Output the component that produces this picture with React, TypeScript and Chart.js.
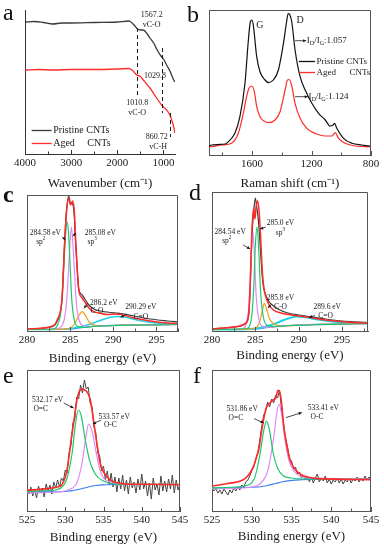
import React, { useEffect, useRef } from "react";
import { Chart, registerables } from "chart.js";
Chart.register(...registerables);

const FONT = "'Liberation Serif', 'Times New Roman', serif";

// ---------- (a) FTIR ----------
const ftirPristineX = [4000, 3800, 3600, 3400, 3200, 3000, 2500, 2000, 1750, 1680, 1600, 1567, 1500, 1437, 1350, 1293, 1200, 1148, 1040, 1000, 931, 860, 788, 751];
const ftirPristineY = [132, 132.5, 131.5, 130, 131, 131, 131.5, 132, 133, 131, 127, 125, 124, 124, 120, 116, 110, 105, 97, 95, 89, 83, 75, 72];
const ftirAgedX = [4000, 3700, 3400, 3000, 2500, 2000, 1750, 1680, 1600, 1581, 1500, 1437, 1293, 1148, 1040, 931, 860, 788, 751];
const ftirAgedY = [84, 84.5, 84, 84.5, 84.5, 85, 85.5, 84, 80, 79, 77.5, 74, 66, 56, 49, 44, 39, 29, 21];
const ftirTicks = [4000, 3000, 2000, 1000];
const ftirMarks = [1567.2, 1029.8, 860.72];
const ftirMarkTop = [126, 106, 41];
const ftirMarkBottom = [57, 41, 17];

// ---------- (b) Raman ----------
const ramanPristineX = [1890, 1873, 1830, 1780, 1760, 1716, 1682, 1648, 1625, 1612, 1602, 1592, 1569, 1547, 1513, 1490, 1457, 1423, 1389, 1367, 1357, 1347, 1333, 1311, 1277, 1243, 1198, 1153, 1108, 1075, 1055, 1045, 1030, 985, 928, 861, 805, 800];
const ramanPristineY = [9, 10, 10.5, 11, 13.3, 21.7, 38.3, 71.7, 115, 133, 135, 130, 98.3, 83.3, 75, 72.3, 75, 85, 111.7, 134, 141.5, 140.5, 133, 105, 78.3, 65, 51.7, 41.7, 35, 29, 30, 31.7, 26.7, 16.7, 11.7, 10, 9, 9];
const ramanAgedX = [1890, 1873, 1800, 1738, 1693, 1659, 1637, 1621, 1603, 1585, 1569, 1547, 1520, 1490, 1446, 1412, 1378, 1362, 1350, 1333, 1311, 1277, 1232, 1176, 1108, 1063, 1041, 1018, 974, 906, 805, 800];
const ramanAgedY = [8, 8.3, 10, 11.7, 21.7, 41.7, 58.3, 66.7, 69, 63.3, 48.3, 38.3, 34, 32.3, 35, 43.3, 65, 75, 75.5, 69, 51.7, 36.7, 26.7, 21.7, 19, 19, 22.3, 16.7, 11.7, 9, 8.3, 8.3];
const ramanTicks = [1600, 1200, 800];

// ---------- (c) XPS C1s pristine ----------
const cRawX = [280, 282.7, 283.5, 284.07, 284.34, 284.57, 284.84, 285.03, 285.3, 285.5, 285.62, 285.81, 286.0, 286.39, 286.78, 287.17, 287.75, 288.5, 289.3, 290.3, 290.85, 292.4, 294.3, 296.3, 297.5];
const cRawY = [2, 4, 10, 33, 85, 120, 135, 128, 127, 112, 90, 62, 42, 36, 31, 26, 22, 20, 19, 18, 17.5, 15, 12, 10, 9];
const cFitX = [280, 282.7, 283.5, 284.07, 284.34, 284.57, 284.84, 285.03, 285.3, 285.5, 285.62, 285.81, 286.0, 286.39, 286.78, 287.17, 287.75, 288.5, 289.3, 290.3, 290.85, 292.4, 294.3, 296.3, 297.5];
const cFitY = [2, 4.3, 11, 34, 84, 118, 133, 126, 130, 118, 94, 64, 41, 33, 28, 23, 19.3, 17.7, 16.5, 17, 16.5, 13, 10, 8, 7.5];
const cSp2X = [280, 283, 283.48, 284.0, 284.3, 284.5, 284.65, 284.8, 285.0, 285.2, 285.5, 285.8, 286.5, 288, 297.5];
const cSp2Y = [1.5, 2, 5, 25, 70, 100, 109, 100, 65, 30, 10, 5, 3.5, 4.8, 6.5];
const cSp3X = [280, 283.5, 284.2, 284.6, 284.9, 285.15, 285.4, 285.7, 286.0, 286.5, 287.5, 289, 297.5];
const cSp3Y = [1.5, 2.5, 8, 30, 75, 104, 75, 30, 12, 5.5, 4.5, 5.3, 6.5];
const cCOX = [280, 284, 285.0, 285.5, 286.0, 286.39, 286.8, 287.2, 287.8, 288.5, 291, 297.5];
const cCOY = [1.5, 1.8, 3, 7, 15, 19.3, 15, 9, 6, 5.2, 5.8, 6.5];
const cCdOX = [280, 284, 285, 286, 287, 288, 289, 289.8, 290.5, 291.2, 292, 293, 294, 295, 296, 297.5];
const cCdOY = [1.5, 1.8, 2.5, 4, 6, 9, 12, 14, 14.5, 14, 12.5, 10.5, 9, 8, 7.5, 7];
const cBgX = [280, 284, 285, 286, 287, 288, 289, 291, 294, 297.5];
const cBgY = [1.5, 1.5, 2, 3, 4, 4.8, 5.3, 5.8, 6.2, 6.5];

// ---------- (d) XPS C1s aged ----------
const dRawX = [280, 282.7, 283.84, 284.23, 284.42, 284.61, 284.81, 285.0, 285.15, 285.3, 285.45, 285.6, 285.77, 285.92, 286.15, 286.53, 287.1, 288.07, 289.23, 290, 291.15, 293.07, 295, 298];
const dRawY = [2, 4, 7, 15, 45, 95, 120, 133, 125, 115, 100, 80, 58, 45, 37, 30, 25, 20, 17, 16, 14.5, 12, 10, 8.5];
const dFitX = [280, 282.7, 283.84, 284.23, 284.42, 284.61, 284.81, 284.95, 285.1, 285.27, 285.45, 285.6, 285.77, 285.92, 286.15, 286.53, 287.1, 288.07, 289.23, 290, 291.15, 293.07, 295, 298];
const dFitY = [2, 4.3, 7.7, 17.7, 51, 101, 123, 112, 125, 130, 118, 95, 65, 48, 36, 27, 21, 17.7, 16, 15, 13.7, 11, 9.3, 7.7];
const dSp2X = [280, 283.5, 284.0, 284.3, 284.55, 284.73, 284.9, 285.1, 285.4, 285.8, 286.5, 288, 298];
const dSp2Y = [1.5, 2.5, 8, 30, 80, 99, 75, 35, 12, 5, 3.5, 5, 7.5];
const dSp3X = [280, 284, 284.5, 284.8, 285.0, 285.2, 285.4, 285.6, 285.9, 286.3, 287, 289, 298];
const dSp3Y = [1.5, 2.5, 10, 40, 85, 104, 80, 40, 15, 6, 4.5, 5.5, 7.5];
const dCOX = [280, 284, 285, 285.5, 285.8, 286.04, 286.3, 286.6, 287, 287.6, 288.5, 292, 298];
const dCOY = [1.5, 1.8, 3, 9, 20, 27.7, 22, 13, 8, 5.5, 5.2, 6.5, 7.5];
const dCdOX = [280, 284, 285, 286, 287, 288, 289, 289.8, 290.5, 291.5, 293, 295, 298];
const dCdOY = [1.5, 1.8, 2.5, 4, 6.5, 10, 13, 14.5, 14, 12.5, 10.5, 8.5, 7.5];
const dBgX = [280, 284, 285, 286, 287, 288, 289, 291, 294, 298];
const dBgY = [1.5, 1.5, 2, 3, 4, 5, 5.5, 6.5, 7, 7.5];
const xpsCTicks = [280, 285, 290, 295];

// ---------- (e) XPS O1s pristine ----------
const eRawStart = 525;
const eRawStep = 0.25;
const eRawY = [22, 17, 24, 15, 21, 13, 25, 18, 23, 14, 27, 20, 26, 17, 29, 23, 31, 24, 33, 30, 41, 38, 58, 66, 88, 92, 114, 112, 126, 118, 131, 122, 124, 108, 104, 84, 78, 58, 55, 40, 45, 31, 40, 26, 38, 24, 34, 19, 33, 22, 36, 20, 31, 17, 34, 23, 29, 18, 32, 21, 37, 22, 30, 15, 28, 12, 33, 21, 27, 16, 35, 20, 30, 19, 32, 22, 36, 18, 31, 21, 27];
const eFitX = [525, 527, 529, 529.5, 530, 530.25, 530.5, 530.75, 531, 531.25, 531.5, 531.75, 532, 532.25, 532.5, 532.75, 533, 533.25, 533.5, 533.75, 534, 534.25, 534.5, 534.75, 535, 535.5, 536, 537, 538, 540, 545];
const eFitY = [20.7, 22, 24, 25.7, 34, 42, 55, 70, 83, 97, 110, 118, 121.5, 122, 121, 120, 117, 112, 101, 88, 74, 62, 50, 43, 39, 34, 30.5, 28, 27, 26.7, 26.3];
const eOdCX = [525, 528, 529.5, 530.2, 530.9, 531.3, 531.7, 532.1, 532.6, 533.2, 534, 535, 536, 537.7, 545];
const eOdCY = [19.5, 20.5, 23.5, 32, 58, 85, 101, 95, 72, 50, 36, 30, 27.5, 26.8, 26.5];
const eOCX = [525, 529, 530.5, 531.5, 532.2, 532.7, 533.05, 533.5, 534, 534.5, 535, 536, 537.7, 545];
const eOCY = [18, 19, 21.5, 28, 48, 74, 87, 80, 60, 42, 33, 28.5, 26.8, 26.5];
const eBgX = [525, 530, 531, 532, 533, 534, 535, 537, 545];
const eBgY = [19, 19.5, 20.5, 22, 24, 25.5, 26.2, 26.5, 26.5];

// ---------- (f) XPS O1s aged ----------
const fRawStart = 525;
const fRawStep = 0.25;
const fRawY = [24, 20, 22, 18, 21, 17, 22, 19, 16, 21, 18, 23, 20, 24, 21, 26, 24, 29, 31, 35, 40, 44, 52, 58, 70, 84, 96, 100, 109, 104, 112, 108, 116, 113, 121, 102, 88, 72, 64, 52, 50, 42, 44, 37, 39, 33, 36, 31, 35, 29, 34, 28, 33, 37, 29, 33, 30, 35, 28, 32, 27, 31, 29, 33, 28, 32, 27, 31, 29, 33, 28, 32, 30, 34, 29, 33, 30, 35, 31, 34, 32];
const fFitX = [525, 527, 528.8, 529.5, 530, 530.3, 530.6, 530.9, 531.2, 531.5, 531.75, 532, 532.3, 532.6, 533, 533.3, 533.5, 533.65, 533.8, 534, 534.25, 534.5, 534.75, 535.1, 535.5, 536.3, 537, 538.4, 545];
const fFitY = [25, 27.5, 30.7, 35, 41, 46, 54, 62, 78, 92, 101, 106, 108, 110.7, 112.4, 120.7, 119, 114, 104, 86, 73, 62, 53, 46, 41, 36, 34, 32.4, 31.4];
const fOdCX = [525, 529, 530.3, 531, 531.5, 531.85, 532.2, 532.7, 533.3, 534, 535, 537, 545];
const fOdCY = [23, 25, 32, 55, 80, 90, 82, 58, 42, 35, 33, 32, 31.7];
const fOCX = [525, 530, 531, 532, 532.7, 533.1, 533.4, 533.8, 534.2, 534.7, 535.3, 536, 537.5, 545];
const fOCY = [22, 24, 27, 40, 70, 95, 107, 95, 70, 50, 40, 35, 33, 32];
const fBgX = [525, 530.9, 532, 533, 534, 535.1, 537.6, 545];
const fBgY = [23, 24, 25.5, 27.5, 29.5, 30.7, 31.7, 31.7];
const xpsOTicks = [525, 530, 535, 540, 545];

// ---------- styling ----------
const RED = "#ff2a2a";
const GREEN = "#1ec86a";
const VIOLET = "#e08af2";
const ORANGE = "#f0a020";
const CYAN = "#20d2e4";
const BLUE = "#3a80f0";
const RAW = "#3b3b3b";
const INK = "#1a1a1a";

const zip = (xs: number[], ys: number[]) => xs.map((x, i) => ({ x, y: ys[i] }));
const seq = (start: number, step: number, ys: number[]) => ys.map((y, i) => ({ x: start + i * step, y }));

type Series = { data: { x: number; y: number }[]; color: string; width: number; smooth?: boolean };
type Txt = { x: number; y: number; s: string; size: number; align?: "left" | "center" };
type Arrow = { x1: number; y1: number; x2: number; y2: number };
type Dash = { x: number; y1: number; y2: number };
type Leg = { x1: number; x2: number; y: number; color: string; label: string; size: number };
type Panel = {
  box: { l: number; t: number; r: number; b: number };
  axisH: number;
  xMin: number; xMax: number; reverse: boolean; yMax: number;
  ticks: number[];
  title: string;
  frame: boolean;
  axisColor: string;
  series: Series[];
  texts?: Txt[]; arrows?: Arrow[]; dashes?: Dash[]; legend?: Leg[];
};

const PAD_L = 16, PAD_R = 16, PAD_T = 4;

function drawRich(ctx: CanvasRenderingContext2D, s: string, x: number, y: number, size: number, align: "left" | "center") {
  const segs: { t: string; k: number; w: number }[] = [];
  const re = /([_^])\{([^}]*)\}/g;
  let last = 0;
  let m: RegExpExecArray | null;
  while ((m = re.exec(s))) {
    if (m.index > last) segs.push({ t: s.slice(last, m.index), k: 0, w: 0 });
    segs.push({ t: m[2], k: m[1] === "_" ? 1 : -1, w: 0 });
    last = re.lastIndex;
  }
  if (last < s.length) segs.push({ t: s.slice(last), k: 0, w: 0 });
  const small = size * 0.68;
  let w = 0;
  for (const sg of segs) {
    ctx.font = `${sg.k ? small : size}px ${FONT}`;
    sg.w = ctx.measureText(sg.t).width;
    w += sg.w;
  }
  let cx = align === "center" ? x - w / 2 : x;
  ctx.textBaseline = "middle";
  ctx.textAlign = "left";
  ctx.fillStyle = INK;
  for (const sg of segs) {
    ctx.font = `${sg.k ? small : size}px ${FONT}`;
    const dy = sg.k === 1 ? size * 0.3 : sg.k === -1 ? -size * 0.35 : 0;
    ctx.fillText(sg.t, cx, y + dy);
    cx += sg.w;
  }
}

function decor(p: Panel) {
  return {
    id: "decor",
    afterDraw(chart: any) {
      const ctx: CanvasRenderingContext2D = chart.ctx;
      const xs = chart.scales.x, ys = chart.scales.y;
      const a = chart.chartArea;
      ctx.save();
      ctx.strokeStyle = p.axisColor;
      ctx.lineWidth = 1;
      if (p.frame) {
        ctx.beginPath();
        ctx.moveTo(a.left, a.top + 0.5);
        ctx.lineTo(a.right - 0.5, a.top + 0.5);
        ctx.lineTo(a.right - 0.5, a.bottom);
        ctx.stroke();
      }
      // inward ticks (major + minor)
      const step = p.ticks[1] - p.ticks[0];
      const lo = Math.min(p.xMin, p.xMax), hi = Math.max(p.xMin, p.xMax);
      ctx.strokeStyle = p.axisColor;
      for (let k = -4; k <= p.ticks.length * 2 + 4; k++) {
        const v = p.ticks[0] + (k * step) / 2;
        if (v < lo - 1e-9 || v > hi + 1e-9) continue;
        const px = Math.round(xs.getPixelForValue(v)) + 0.5;
        const len = k % 2 === 0 ? 4 : 2.5;
        ctx.beginPath();
        ctx.moveTo(px, a.bottom);
        ctx.lineTo(px, a.bottom - len);
        ctx.stroke();
      }
      // dashed markers
      ctx.strokeStyle = INK;
      ctx.setLineDash([4, 3]);
      for (const d of p.dashes || []) {
        const px = Math.round(xs.getPixelForValue(d.x)) + 0.5;
        ctx.beginPath();
        ctx.moveTo(px, ys.getPixelForValue(d.y1));
        ctx.lineTo(px, ys.getPixelForValue(d.y2));
        ctx.stroke();
      }
      ctx.setLineDash([]);
      // arrows
      ctx.strokeStyle = INK;
      ctx.fillStyle = INK;
      ctx.lineWidth = 0.8;
      for (const ar of p.arrows || []) {
        const x1 = xs.getPixelForValue(ar.x1), y1 = ys.getPixelForValue(ar.y1);
        const x2 = xs.getPixelForValue(ar.x2), y2 = ys.getPixelForValue(ar.y2);
        ctx.beginPath();
        ctx.moveTo(x1, y1);
        ctx.lineTo(x2, y2);
        ctx.stroke();
        const ang = Math.atan2(y2 - y1, x2 - x1);
        const hl = 3.5;
        ctx.beginPath();
        ctx.moveTo(x2, y2);
        ctx.lineTo(x2 - hl * Math.cos(ang - 0.45), y2 - hl * Math.sin(ang - 0.45));
        ctx.lineTo(x2 - hl * Math.cos(ang + 0.45), y2 - hl * Math.sin(ang + 0.45));
        ctx.closePath();
        ctx.fill();
      }
      // legend
      for (const lg of p.legend || []) {
        const x1 = xs.getPixelForValue(lg.x1), x2 = xs.getPixelForValue(lg.x2);
        const y = Math.round(ys.getPixelForValue(lg.y)) + 0.5;
        ctx.strokeStyle = lg.color;
        ctx.lineWidth = 1.3;
        ctx.beginPath();
        ctx.moveTo(x1, y);
        ctx.lineTo(x2, y);
        ctx.stroke();
        drawRich(ctx, lg.label, x2 + 1.5, y, lg.size, "left");
      }
      // texts
      for (const t of p.texts || []) {
        drawRich(ctx, t.s, xs.getPixelForValue(t.x), ys.getPixelForValue(t.y), t.size, t.align || "center");
      }
      ctx.restore();
    },
  };
}

function PanelChart({ p }: { p: Panel }) {
  const ref = useRef<HTMLCanvasElement>(null);
  const W = p.box.r - p.box.l + PAD_L + PAD_R;
  const H = p.box.b - p.box.t + PAD_T + p.axisH;
  useEffect(() => {
    const canvas = ref.current!;
    const chart = new Chart(canvas, {
      type: "line",
      data: {
        datasets: p.series.map((s) => ({
          data: s.data,
          borderColor: s.color,
          borderWidth: s.width,
          pointRadius: 0,
          fill: false,
          cubicInterpolationMode: s.smooth === false ? "default" : "monotone",
          tension: 0,
        })) as any,
      },
      options: {
        animation: false,
        responsive: false,
        devicePixelRatio: 1,
        layout: { padding: { left: PAD_L, right: PAD_R, top: PAD_T, bottom: 0 } },
        plugins: { legend: { display: false }, tooltip: { enabled: false } },
        scales: {
          x: {
            type: "linear",
            min: p.xMin,
            max: p.xMax,
            reverse: p.reverse,
            afterBuildTicks: (s: any) => {
              s.ticks = p.ticks.map((v) => ({ value: v }));
            },
            afterFit: (s: any) => {
              s.height = p.axisH;
            },
            grid: { display: false, drawTicks: false },
            border: { display: true, color: p.axisColor, width: 1 },
            ticks: {
              autoSkip: false,
              maxRotation: 0,
              padding: 3,
              color: INK,
              font: { family: FONT, size: 11 },
              callback: (v: any) => String(v),
            },
            title: {
              display: true,
              text: p.title,
              color: INK,
              font: { family: FONT, size: 13 },
              padding: { top: 0, bottom: 0 },
            },
          },
          y: {
            type: "linear",
            min: 0,
            max: p.yMax,
            afterFit: (s: any) => {
              s.width = 0;
            },
            grid: { display: false, drawTicks: false },
            border: { display: true, color: p.axisColor, width: 1 },
            ticks: { display: false },
          },
        },
      } as any,
      plugins: [decor(p)],
    });
    return () => chart.destroy();
  }, []);
  return (
    <div style={{ position: "absolute", left: p.box.l - PAD_L, top: p.box.t - PAD_T, width: W, height: H }}>
      <canvas ref={ref} width={W} height={H} style={{ width: W, height: H, display: "block" }} />
    </div>
  );
}

const panels: Panel[] = [
  {
    box: { l: 25, t: 10, r: 175, b: 154 }, axisH: 37,
    xMin: 750, xMax: 4000, reverse: true, yMax: 144, ticks: ftirTicks,
    title: "Wavenumber (cm\u207B\u00B9)", frame: false, axisColor: "#333",
    series: [
      { data: zip(ftirPristineX, ftirPristineY), color: "#3a3a3a", width: 1.3 },
      { data: zip(ftirAgedX, ftirAgedY), color: RED, width: 1.3 },
    ],
    dashes: ftirMarks.map((x, i) => ({ x, y1: ftirMarkTop[i], y2: ftirMarkBottom[i] })),
    texts: [
      { x: 1256, y: 139, s: "1567.2", size: 8 },
      { x: 1256, y: 129, s: "vC-O", size: 8 },
      { x: 1184, y: 78, s: "1029.8", size: 8 },
      { x: 1568, y: 50.7, s: "1010.8", size: 8 },
      { x: 1568, y: 40.7, s: "vC-O", size: 8 },
      { x: 1148, y: 17.3, s: "860.72", size: 8 },
      { x: 1113, y: 7.3, s: "vC-H", size: 8 },
    ],
    legend: [
      { x1: 3855, x2: 3422, y: 24, color: "#3a3a3a", label: "Pristine CNTs", size: 10 },
      { x1: 3855, x2: 3422, y: 11.3, color: RED, label: "Aged     CNTs", size: 10 },
    ],
  },
  {
    box: { l: 209, t: 10, r: 371, b: 155 }, axisH: 36,
    xMin: 800, xMax: 1890, reverse: true, yMax: 145, ticks: ramanTicks,
    title: "Raman shift (cm\u207B\u00B9)", frame: true, axisColor: "#555",
    series: [
      { data: zip(ramanPristineX, ramanPristineY), color: "#111", width: 1.2 },
      { data: zip(ramanAgedX, ramanAgedY), color: RED, width: 1.2 },
    ],
    texts: [
      { x: 1547, y: 130, s: "G", size: 10 },
      { x: 1277, y: 135, s: "D", size: 10 },
      { x: 1232, y: 114.3, s: "I_{D}/I_{G}:1.057", size: 9, align: "left" },
      { x: 1221, y: 58.3, s: "I_{D}/I_{G}:1.124", size: 9, align: "left" },
    ],
    arrows: [
      { x1: 1311, y1: 114.3, x2: 1236, y2: 114.3 },
      { x1: 1311, y1: 58.3, x2: 1225, y2: 58.3 },
    ],
    legend: [
      { x1: 1285, x2: 1177, y: 94, color: "#111", label: "Pristine CNTs", size: 9 },
      { x1: 1285, x2: 1177, y: 83.3, color: RED, label: "Aged      CNTs", size: 9 },
    ],
  },
  {
    box: { l: 27, t: 195, r: 178, b: 331 }, axisH: 35,
    xMin: 280, xMax: 297.5, reverse: false, yMax: 136, ticks: xpsCTicks,
    title: "Binding energy (eV)", frame: true, axisColor: "#555",
    series: [
      { data: zip(cFitX, cFitY), color: RED, width: 1.5 },
      { data: zip(cSp2X, cSp2Y), color: GREEN, width: 1.2 },
      { data: zip(cSp3X, cSp3Y), color: VIOLET, width: 1.2 },
      { data: zip(cCOX, cCOY), color: ORANGE, width: 1.2 },
      { data: zip(cCdOX, cCdOY), color: CYAN, width: 1.6 },
      { data: zip(cBgX, cBgY), color: BLUE, width: 1.2 },
      { data: zip(cRawX, cRawY), color: RAW, width: 1.2 },
    ],
    texts: [
      { x: 282.13, y: 97.7, s: "284.58 eV", size: 7.5 },
      { x: 281.6, y: 89.3, s: "sp^{2}", size: 7.5 },
      { x: 288.5, y: 97.7, s: "285.08 eV", size: 7.5 },
      { x: 287.55, y: 89.3, s: "sp^{3}", size: 7.5 },
      { x: 288.9, y: 27.7, s: "286.2 eV", size: 7.5 },
      { x: 288.1, y: 20, s: "C-O", size: 7.5 },
      { x: 293.2, y: 24.3, s: "290.29 eV", size: 7.5 },
      { x: 293.2, y: 14.3, s: "C=O", size: 7.5 },
    ],
    arrows: [
      { x1: 284.1, y1: 94.3, x2: 284.45, y2: 91 },
      { x1: 285.7, y1: 97.7, x2: 285.3, y2: 95 },
      { x1: 287.05, y1: 27.7, x2: 286.6, y2: 22.7 },
      { x1: 291.6, y1: 17, x2: 290.85, y2: 13.7 },
    ],
  },
  {
    box: { l: 212, t: 192, r: 368, b: 331 }, axisH: 32,
    xMin: 280, xMax: 298, reverse: false, yMax: 139, ticks: xpsCTicks,
    title: "Binding energy (eV)", frame: true, axisColor: "#555",
    series: [
      { data: zip(dFitX, dFitY), color: RED, width: 1.5 },
      { data: zip(dSp3X, dSp3Y), color: GREEN, width: 1.2 },
      { data: zip(dSp2X, dSp2Y), color: VIOLET, width: 1.2 },
      { data: zip(dCOX, dCOY), color: ORANGE, width: 1.2 },
      { data: zip(dCdOX, dCdOY), color: CYAN, width: 2 },
      { data: zip(dBgX, dBgY), color: BLUE, width: 1.2 },
      { data: zip(dRawX, dRawY), color: RAW, width: 1.2 },
    ],
    texts: [
      { x: 282.1, y: 98.7, s: "284.54 eV", size: 7.5 },
      { x: 281.7, y: 90.3, s: "sp^{2}", size: 7.5 },
      { x: 287.9, y: 107.7, s: "285.0 eV", size: 7.5 },
      { x: 287.9, y: 98.3, s: "sp^{3}", size: 7.5 },
      { x: 287.9, y: 32.7, s: "285.8 eV", size: 7.5 },
      { x: 287.9, y: 24.3, s: "C-O", size: 7.5 },
      { x: 293.3, y: 24.3, s: "289.6 eV", size: 7.5 },
      { x: 293.1, y: 15, s: "C=O", size: 7.5 },
    ],
    arrows: [
      { x1: 283.6, y1: 86, x2: 284.4, y2: 82 },
      { x1: 286.2, y1: 104, x2: 285.55, y2: 102 },
      { x1: 286.9, y1: 27, x2: 286.45, y2: 23 },
      { x1: 291.9, y1: 15.5, x2: 291.2, y2: 13.5 },
    ],
  },
  {
    box: { l: 27, t: 370, r: 180, b: 511 }, axisH: 34,
    xMin: 525, xMax: 545, reverse: false, yMax: 141, ticks: xpsOTicks,
    title: "Binding energy (eV)", frame: true, axisColor: "#555",
    series: [
      { data: zip(eFitX, eFitY), color: RED, width: 1.6 },
      { data: zip(eOdCX, eOdCY), color: GREEN, width: 1.2 },
      { data: zip(eOCX, eOCY), color: VIOLET, width: 1.2 },
      { data: zip(eBgX, eBgY), color: BLUE, width: 1.2 },
      { data: seq(eRawStart, eRawStep, eRawY), color: "#444", width: 1, smooth: false },
    ],
    texts: [
      { x: 527.7, y: 110.7, s: "532.17 eV", size: 7.5 },
      { x: 526.8, y: 102.4, s: "O=C", size: 7.5 },
      { x: 536.4, y: 94, s: "533.57 eV", size: 7.5 },
      { x: 535.9, y: 85.7, s: "O-C", size: 7.5 },
    ],
    arrows: [
      { x1: 529.8, y1: 108, x2: 531.1, y2: 103 },
      { x1: 534.7, y1: 91, x2: 533.6, y2: 87 },
    ],
  },
  {
    box: { l: 212, t: 370, r: 371, b: 511 }, axisH: 33,
    xMin: 525, xMax: 545, reverse: false, yMax: 141, ticks: xpsOTicks,
    title: "Binding energy (eV)", frame: true, axisColor: "#555",
    series: [
      { data: zip(fFitX, fFitY), color: RED, width: 1.6 },
      { data: zip(fOdCX, fOdCY), color: GREEN, width: 1.2 },
      { data: zip(fOCX, fOCY), color: VIOLET, width: 1.2 },
      { data: zip(fBgX, fBgY), color: BLUE, width: 1.2 },
      { data: seq(fRawStart, fRawStep, fRawY), color: "#444", width: 1, smooth: false },
    ],
    texts: [
      { x: 528.8, y: 102.4, s: "531.86 eV", size: 7.5 },
      { x: 528, y: 93, s: "O=C", size: 7.5 },
      { x: 539.0, y: 103, s: "533.41 eV", size: 7.5 },
      { x: 538.2, y: 94, s: "O-C", size: 7.5 },
    ],
    arrows: [
      { x1: 530.3, y1: 92.4, x2: 531.5, y2: 88 },
      { x1: 534.3, y1: 93.4, x2: 536.3, y2: 98.4 },
    ],
  },
];

const letters = [
  { s: "a", l: 3, t: 0, bold: false },
  { s: "b", l: 187, t: 2, bold: false },
  { s: "c", l: 3, t: 182, bold: true },
  { s: "d", l: 189, t: 180, bold: false },
  { s: "e", l: 3, t: 363, bold: false },
  { s: "f", l: 193, t: 363, bold: false },
];

export default function App() {
  return (
    <div style={{ position: "absolute", left: 0, top: 0, width: 384, height: 550, background: "#fff", overflow: "hidden" }}>
      {panels.map((p, i) => (
        <PanelChart key={i} p={p} />
      ))}
      {letters.map((L) => (
        <div
          key={L.s}
          style={{
            position: "absolute", left: L.l, top: L.t, fontFamily: FONT, fontSize: 24,
            lineHeight: "24px", fontWeight: L.bold ? "bold" : "normal", color: "#111",
          }}
        >
          {L.s}
        </div>
      ))}
    </div>
  );
}
